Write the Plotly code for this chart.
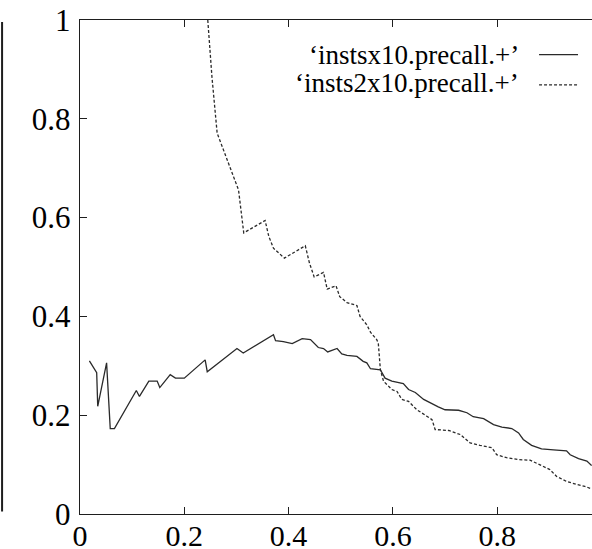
import plotly.graph_objects as go

# Series 1: 'instsx10.precall.+' (solid)
recall_a = [0.018, 0.032, 0.034, 0.051, 0.058, 0.066, 0.108, 0.114, 0.132, 0.148,
            0.153, 0.173, 0.183, 0.200, 0.240, 0.244, 0.301, 0.313, 0.371, 0.375,
            0.390, 0.407, 0.426, 0.442, 0.457, 0.467, 0.475, 0.493, 0.502, 0.512,
            0.531, 0.543, 0.550, 0.557, 0.576, 0.585, 0.598, 0.620, 0.630, 0.643,
            0.659, 0.675, 0.687, 0.700, 0.726, 0.742, 0.754, 0.774, 0.793, 0.809,
            0.828, 0.841, 0.850, 0.866, 0.885, 0.908, 0.933, 0.940, 0.956, 0.972,
            0.981]
prec_a = [0.310, 0.286, 0.218, 0.306, 0.173, 0.173, 0.250, 0.238, 0.269, 0.269,
          0.256, 0.282, 0.275, 0.275, 0.312, 0.288, 0.335, 0.326, 0.363, 0.351,
          0.349, 0.345, 0.355, 0.353, 0.337, 0.335, 0.328, 0.335, 0.324, 0.321,
          0.319, 0.309, 0.306, 0.294, 0.292, 0.275, 0.269, 0.264, 0.252, 0.246,
          0.232, 0.223, 0.217, 0.211, 0.210, 0.205, 0.197, 0.193, 0.181, 0.176,
          0.173, 0.164, 0.151, 0.139, 0.132, 0.130, 0.128, 0.120, 0.112, 0.107,
          0.098]

# Series 2: 'insts2x10.precall.+' (dashed)
recall_b = [0.245, 0.253, 0.263, 0.288, 0.304, 0.314, 0.355, 0.362, 0.371, 0.392,
            0.432, 0.440, 0.449, 0.467, 0.474, 0.491, 0.498, 0.512, 0.531, 0.537,
            0.550, 0.557, 0.569, 0.572, 0.576, 0.582, 0.598, 0.608, 0.617, 0.630,
            0.646, 0.665, 0.675, 0.681, 0.707, 0.729, 0.748, 0.767, 0.790, 0.799,
            0.818, 0.841, 0.863, 0.885, 0.901, 0.914, 0.933, 0.952, 0.968, 0.981]
prec_b = [1.000, 0.885, 0.771, 0.703, 0.656, 0.569, 0.594, 0.562, 0.538, 0.518,
          0.543, 0.508, 0.480, 0.489, 0.455, 0.462, 0.440, 0.428, 0.422, 0.400,
          0.383, 0.368, 0.353, 0.346, 0.292, 0.269, 0.252, 0.248, 0.232, 0.228,
          0.211, 0.198, 0.191, 0.171, 0.169, 0.161, 0.144, 0.139, 0.134, 0.120,
          0.114, 0.110, 0.109, 0.098, 0.090, 0.076, 0.066, 0.060, 0.056, 0.051]

names = ["\u2018instsx10.precall.+\u2019", "\u2018insts2x10.precall.+\u2019"]
tick_vals = [0, 0.2, 0.4, 0.6, 0.8, 1]
tick_text = ["0", "0.2", "0.4", "0.6", "0.8", "1"]

FONT = "Liberation Serif, Times New Roman, Times, DejaVu Serif, serif"
INK = "#1e1e1e"

fig = go.Figure()
fig.add_trace(go.Scatter(x=recall_a, y=prec_a, mode="lines", name=names[0],
                         line=dict(color="#2a2a2a", width=1.3)))
fig.add_trace(go.Scatter(x=recall_b, y=prec_b, mode="lines", name=names[1],
                         line=dict(color="#2a2a2a", width=1.3, dash="3px,2px")))

W, H = 592, 549
L, T, B = 79.5, 20, 34.5
plot_w = W - L
x_max = plot_w / 522.0

fig.update_layout(
    width=W, height=H,
    margin=dict(l=L, r=0, t=T, b=B, pad=0, autoexpand=False),
    paper_bgcolor="white", plot_bgcolor="white",
    showlegend=False,
    font=dict(family=FONT, color="black", size=28),
    xaxis=dict(range=[0, x_max], tickvals=tick_vals[:-1], ticktext=tick_text[:-1],
               ticks="inside", ticklen=7, tickwidth=1.3, tickcolor=INK,
               showline=True, linecolor=INK, linewidth=1.4, mirror="ticks",
               showgrid=False, zeroline=False, ticklabelstandoff=-5,
               automargin=False,
               tickfont=dict(family=FONT, size=30, color="black")),
    yaxis=dict(range=[0, 1], tickvals=tick_vals, ticktext=tick_text,
               ticks="inside", ticklen=7, tickwidth=1.3, tickcolor=INK,
               showline=True, linecolor=INK, linewidth=1.4, mirror=False,
               showgrid=False, zeroline=False, ticklabelstandoff=2,
               automargin=False,
               tickfont=dict(family=FONT, size=31, color="black")),
)

# gnuplot-style key: text right-aligned, line sample to the right
key_y = [0.930, 0.872]
for name, ky in zip(names, key_y):
    fig.add_annotation(x=(521 - L) / plot_w, y=ky, xref="paper", yref="paper",
                       text=name, showarrow=False, xanchor="right", yanchor="middle",
                       font=dict(family=FONT, size=27, color="black"))
fig.add_shape(type="line", xref="paper", yref="paper",
              x0=(539 - L) / plot_w, x1=(578 - L) / plot_w, y0=0.9300, y1=0.9300,
              line=dict(color="#2a2a2a", width=1.3))
fig.add_shape(type="line", xref="paper", yref="paper",
              x0=(539 - L) / plot_w, x1=(578 - L) / plot_w, y0=0.8686, y1=0.8686,
              line=dict(color="#2a2a2a", width=1.3, dash="3px,2px"))

# edge of neighbouring panel visible at far left
fig.add_shape(type="line", xref="paper", yref="paper",
              x0=(1.5 - L) / plot_w, x1=(1.5 - L) / plot_w, y0=0.005, y1=0.996,
              line=dict(color=INK, width=2))

fig.write_html("out.html", config={"displayModeBar": False},
               post_script="document.body.style.margin='0';document.body.style.overflow='hidden';")
